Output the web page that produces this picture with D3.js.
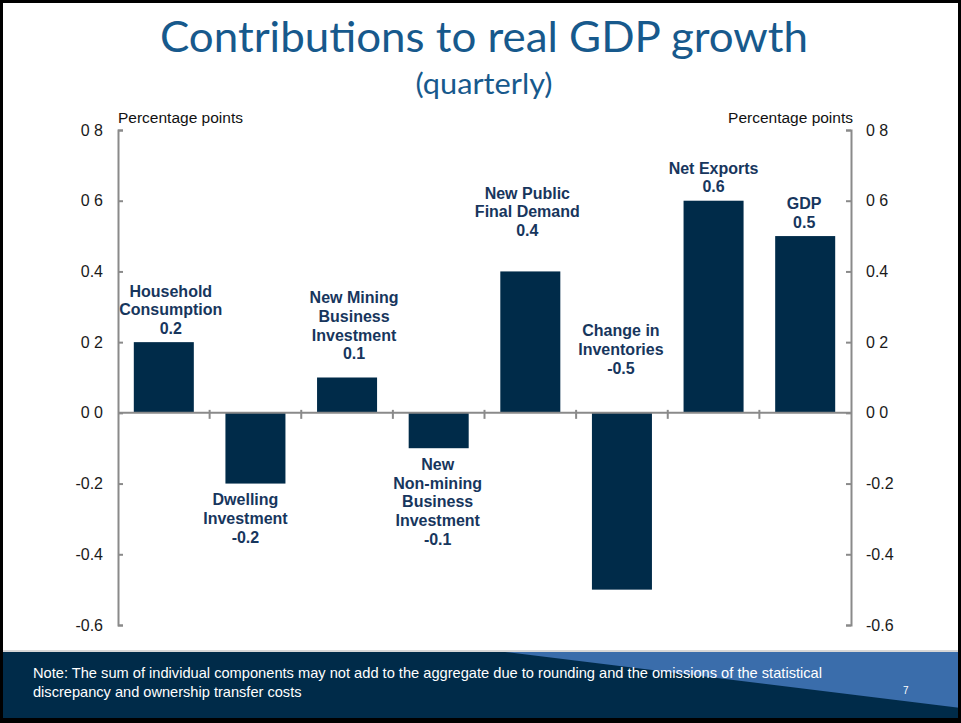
<!DOCTYPE html>
<html>
<head>
<meta charset="utf-8">
<script src="https://cdn.jsdelivr.net/npm/d3@7"></script>
<style>
  html, body { margin: 0; padding: 0; background: #fff; }
  svg { display: block; }
</style>
</head>
<body>
<svg id="chart" width="961" height="723"></svg>
<script>
// Contributions to real GDP growth, quarterly, percentage points
const categories = [
  "Household Consumption",
  "Dwelling Investment",
  "New Mining Business Investment",
  "New Non-mining Business Investment",
  "New Public Final Demand",
  "Change in Inventories",
  "Net Exports",
  "GDP"
];
const labelLines = [
  ["Household", "Consumption"],
  ["Dwelling", "Investment"],
  ["New Mining", "Business", "Investment"],
  ["New", "Non-mining", "Business", "Investment"],
  ["New Public", "Final Demand"],
  ["Change in", "Inventories"],
  ["Net Exports"],
  ["GDP"]
];
const values = [0.2, -0.2, 0.1, -0.1, 0.4, -0.5, 0.6, 0.5];
const valueLabels = ["0.2", "-0.2", "0.1", "-0.1", "0.4", "-0.5", "0.6", "0.5"];
const tickValues = [-0.6, -0.4, -0.2, 0, 0.2, 0.4, 0.6, 0.8];
const tickLabels = ["-0.6", "-0.4", "-0.2", "0 0", "0 2", "0.4", "0 6", "0 8"];

// label placement: nudges (px) and whether the label sits above the zero line
const labelNudgeX = [7, -10, 7, -1, -3, -1, 0, -1];
const labelNudgeY = [0, 0, -10, 0, -27, 0, 0, 0];
const labelAboveZero = [false, false, false, false, false, true, false, false];

const W = 961, H = 723;
const svg = d3.select("#chart");

const plot = { left: 118, right: 851, top: 130, bottom: 625 };
const navy = "#002b49";
const textNavy = "#17365d";
const axisGrey = "#8a8a8a";

const x = d3.scaleBand()
  .domain(categories)
  .range([plot.left, plot.right])
  .paddingInner(0.345)
  .paddingOuter(0.1725);

const y = d3.scaleLinear()
  .domain([-0.6, 0.8])
  .range([plot.bottom, plot.top]);

// page title
svg.append("text")
  .attr("x", 484).attr("y", 52)
  .attr("text-anchor", "middle")
  .attr("font-family", "Lato, 'Open Sans', sans-serif")
  .attr("font-size", 42)
  .attr("fill", "#17598c")
  .attr("textLength", 648)
  .attr("lengthAdjust", "spacingAndGlyphs")
  .text("Contributions to real GDP growth");

svg.append("text")
  .attr("x", 484).attr("y", 94)
  .attr("text-anchor", "middle")
  .attr("font-family", "Lato, 'Open Sans', sans-serif")
  .attr("font-size", 28)
  .attr("fill", "#17598c")
  .attr("textLength", 137)
  .attr("lengthAdjust", "spacingAndGlyphs")
  .text("(quarterly)");

// unit labels
svg.append("text")
  .attr("x", plot.left).attr("y", 123)
  .attr("font-family", "'Liberation Sans', Arial, sans-serif")
  .attr("font-size", 15.5)
  .attr("fill", "#111")
  .text("Percentage points");
svg.append("text")
  .attr("x", plot.right + 2).attr("y", 123)
  .attr("text-anchor", "end")
  .attr("font-family", "'Liberation Sans', Arial, sans-serif")
  .attr("font-size", 15.5)
  .attr("fill", "#111")
  .text("Percentage points");

// bars
svg.append("g").selectAll("rect")
  .data(values)
  .join("rect")
  .attr("x", (d, i) => x(categories[i]))
  .attr("width", x.bandwidth())
  .attr("y", d => y(Math.max(0, d)))
  .attr("height", d => Math.abs(y(d) - y(0)))
  .attr("fill", navy);

// axes
function styleAxis(g) {
  g.selectAll(".domain").attr("stroke", axisGrey).attr("stroke-width", 2);
  g.selectAll(".tick line").attr("stroke", axisGrey).attr("stroke-width", 2);
  g.selectAll(".tick text")
    .attr("font-family", "'Liberation Sans', Arial, sans-serif")
    .attr("font-size", 16)
    .attr("fill", "#1a1a1a");
}
const fmt = v => tickLabels[tickValues.indexOf(v)];

svg.append("g")
  .attr("transform", `translate(${plot.left},0)`)
  .call(d3.axisLeft(y).tickValues(tickValues).tickFormat(fmt)
    .tickSizeInner(-5).tickSizeOuter(-5).tickPadding(15))
  .call(styleAxis);

svg.append("g")
  .attr("transform", `translate(${plot.right},0)`)
  .call(d3.axisRight(y).tickValues(tickValues).tickFormat(fmt)
    .tickSizeInner(-5).tickSizeOuter(-5).tickPadding(15))
  .call(styleAxis);

// zero line with category separators
svg.append("line")
  .attr("x1", plot.left).attr("x2", plot.right)
  .attr("y1", y(0)).attr("y2", y(0))
  .attr("stroke", axisGrey).attr("stroke-width", 2);

svg.append("g").selectAll("line")
  .data(categories.slice(1))
  .join("line")
  .attr("x1", d => x(d) - x.step() * x.paddingInner() / 2)
  .attr("x2", d => x(d) - x.step() * x.paddingInner() / 2)
  .attr("y1", y(0) - 3).attr("y2", y(0) + 6)
  .attr("stroke", axisGrey).attr("stroke-width", 2);

// bar labels
const lineH = 18.7;
const labels = svg.append("g")
  .attr("font-family", "'Liberation Sans', Arial, sans-serif")
  .attr("font-weight", "bold")
  .attr("font-size", 16)
  .attr("fill", textNavy)
  .attr("text-anchor", "middle");

values.forEach((v, i) => {
  const lines = labelLines[i].concat([valueLabels[i]]);
  const cx = x(categories[i]) + x.bandwidth() / 2 + labelNudgeX[i];
  let firstCenter;
  if (labelAboveZero[i]) {
    firstCenter = y(0) - 45 - (lines.length - 1) * lineH;
  } else if (v >= 0) {
    firstCenter = y(v) - 14 - (lines.length - 1) * lineH;
  } else {
    firstCenter = y(v) + 16;
  }
  firstCenter += labelNudgeY[i];
  lines.forEach((t, k) => {
    labels.append("text")
      .attr("x", cx)
      .attr("y", firstCenter + k * lineH)
      .attr("dy", "0.36em")
      .text(t);
  });
});

// footer band
const footer = svg.append("g");
footer.append("line")
  .attr("x1", 0).attr("x2", W).attr("y1", 651).attr("y2", 651)
  .attr("stroke", "#c8c8c8").attr("stroke-width", 1.5);
footer.append("rect")
  .attr("x", 0).attr("y", 652).attr("width", W).attr("height", 68)
  .attr("fill", navy);
footer.append("path")
  .attr("d", "M505,652 L961,652 L961,708 Z")
  .attr("fill", "#3a6dab");
const note = footer.append("g")
  .attr("font-family", "'Liberation Sans', Arial, sans-serif")
  .attr("font-size", 14.6)
  .attr("fill", "#ffffff");
note.append("text").attr("x", 33).attr("y", 678)
  .attr("textLength", 789).attr("lengthAdjust", "spacingAndGlyphs")
  .text("Note: The sum of individual components may not add to the aggregate due to rounding and the omissions of the statistical");
note.append("text").attr("x", 33).attr("y", 697)
  .text("discrepancy and ownership transfer costs");
footer.append("text")
  .attr("x", 903).attr("y", 694)
  .attr("font-family", "'Liberation Sans', Arial, sans-serif")
  .attr("font-size", 10)
  .attr("fill", "#ffffff")
  .text("7");

// outer frame
svg.append("rect")
  .attr("x", 1.5).attr("y", 1.5).attr("width", W - 3).attr("height", H - 3)
  .attr("fill", "none").attr("stroke", "#000").attr("stroke-width", 3);
svg.append("rect")
  .attr("x", 0).attr("y", 718).attr("width", W).attr("height", 5)
  .attr("fill", "#000");
</script>
</body>
</html>
